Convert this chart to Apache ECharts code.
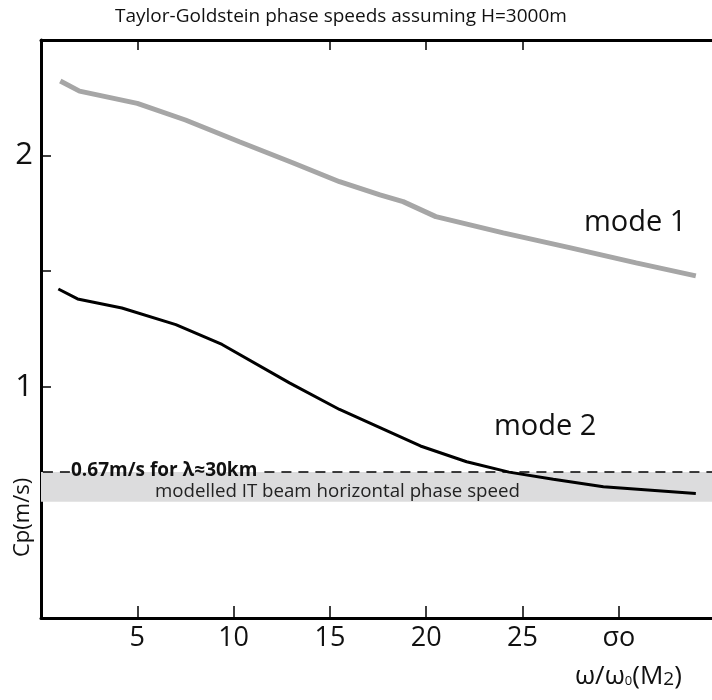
<!DOCTYPE html>
<html><head><meta charset="utf-8">
<script src="https://cdn.jsdelivr.net/npm/echarts@6/dist/echarts.min.js"></script>
<style>html,body{margin:0;padding:0;background:#fff}#c{width:712px;height:700px}</style>
</head><body><div id="c"></div>
<script>
const mode1X = [1, 2, 5, 7.5, 10.3, 13.1, 15.5, 17.6, 18.8, 20.5, 24, 27.5, 30.9, 34];
const mode1Y = [2.323, 2.279, 2.226, 2.154, 2.060, 1.968, 1.887, 1.830, 1.801, 1.736, 1.666, 1.601, 1.536, 1.480];
const mode2X = [0.9, 1.9, 4.2, 7.0, 9.4, 12.9, 15.5, 17.6, 19.7, 22.1, 24.3, 26.6, 29.2, 34];
const mode2Y = [1.423, 1.380, 1.341, 1.269, 1.183, 1.017, 0.902, 0.823, 0.744, 0.676, 0.631, 0.600, 0.568, 0.539];
const xTicks = [5, 10, 15, 20, 25, 30];
const xTickLabels = ['5', '10', '15', '20', '25', 'σo'];
const topTicks = [5, 15, 20, 25];
const yTicks = [1, 1.5, 2];
const yLabels = [1, 2];
const refLineY = 0.632;
const bandRange = [0.503, 0.632];
const X_MAX = 34.84, Y_MAX = 2.5;

const FONT = "'Open Sans',sans-serif";
const chart = echarts.init(document.getElementById('c'), null, {renderer: 'canvas'});
const pairs = (xs, ys) => xs.map((x, i) => [x, ys[i]]);

chart.setOption({
  animation: false,
  backgroundColor: '#fff',
  grid: {left: 41, right: 0, top: 40, bottom: 82},
  xAxis: [{
    type: 'value', min: 0, max: X_MAX, position: 'bottom',
    axisLine: {lineStyle: {color: '#000', width: 3}},
    axisTick: {inside: true, length: 12, lineStyle: {color: '#000', width: 1.5}, customValues: xTicks},
    axisLabel: {customValues: xTicks, color: '#111', fontSize: 27, fontFamily: FONT, margin: 7,
      formatter: v => xTickLabels[xTicks.indexOf(v)] || ''},
    splitLine: {show: false}
  }, {
    type: 'value', min: 0, max: X_MAX, position: 'top',
    axisLine: {lineStyle: {color: '#000', width: 3}},
    axisTick: {inside: true, length: 10, lineStyle: {color: '#000', width: 1.5}, customValues: topTicks},
    axisLabel: {show: false}, splitLine: {show: false}
  }],
  yAxis: {
    type: 'value', min: 0, max: Y_MAX,
    axisLine: {show: true, lineStyle: {color: '#000', width: 3}},
    axisTick: {show: true, inside: true, length: 10, lineStyle: {color: '#000', width: 1.5}, customValues: yTicks},
    axisLabel: {customValues: yLabels, color: '#111', fontSize: 31, fontFamily: FONT, margin: 8},
    splitLine: {show: false}
  },
  series: [{
    type: 'line', name: 'band', data: [], silent: true,
    markArea: {silent: true, itemStyle: {color: '#dcdcdd'},
      data: [[{xAxis: 0, yAxis: bandRange[0]}, {xAxis: X_MAX, yAxis: bandRange[1]}]]},
    markLine: {silent: true, symbol: 'none', label: {show: false},
      lineStyle: {color: '#000', type: [10, 7], width: 1.6},
      data: [
        [{coord: [0.1, refLineY]}, {coord: [1.5, refLineY]}],
        [{coord: [11.6, refLineY]}, {coord: [X_MAX, refLineY]}]
      ]}
  }, {
    type: 'line', name: 'mode 1', data: pairs(mode1X, mode1Y), symbol: 'none', smooth: false,
    lineStyle: {color: '#a6a6a6', width: 5}, z: 3
  }, {
    type: 'line', name: 'mode 2', data: pairs(mode2X, mode2Y), symbol: 'none', smooth: false,
    lineStyle: {color: '#000', width: 3}, z: 4
  }],
  graphic: {elements: [
    {type: 'text', z: 100, left: 115, top: 7, style: {text: 'Taylor-Goldstein phase speeds assuming H=3000m', fontSize: 19, fontFamily: FONT, fill: '#111'}},
    {type: 'text', z: 100, x: 12, y: 557, rotation: Math.PI / 2, style: {text: 'Cp(m/s)', fontSize: 22, fontFamily: FONT, fill: '#111'}},
    {type: 'text', z: 100, left: 584, top: 208, style: {text: 'mode 1', fontSize: 29, fontFamily: FONT, fill: '#111'}},
    {type: 'text', z: 100, left: 494, top: 412, style: {text: 'mode 2', fontSize: 29, fontFamily: FONT, fill: '#111'}},
    {type: 'text', z: 100, left: 71, top: 461, style: {text: '0.67m/s for λ≈30km', fontSize: 19, fontWeight: 'bold', fontFamily: FONT, fill: '#111'}},
    {type: 'text', z: 100, left: 155, top: 482, style: {text: 'modelled IT beam horizontal phase speed', fontSize: 18.7, fontFamily: FONT, fill: '#222'}},
    {type: 'text', z: 100, left: 575, top: 664, style: {
      text: '{a|ω/ω}{s|0}{a|(M}{t|2}{a|)}',
      rich: {
        a: {fontSize: 26, fontFamily: FONT, fill: '#111'},
        s: {fontSize: 13, fontFamily: FONT, fill: '#111', padding: [8, 0, 0, 0]},
        t: {fontSize: 19, fontFamily: FONT, fill: '#111', padding: [6, 0, 0, 0]}
      }}}
  ]}
});
</script></body></html>
